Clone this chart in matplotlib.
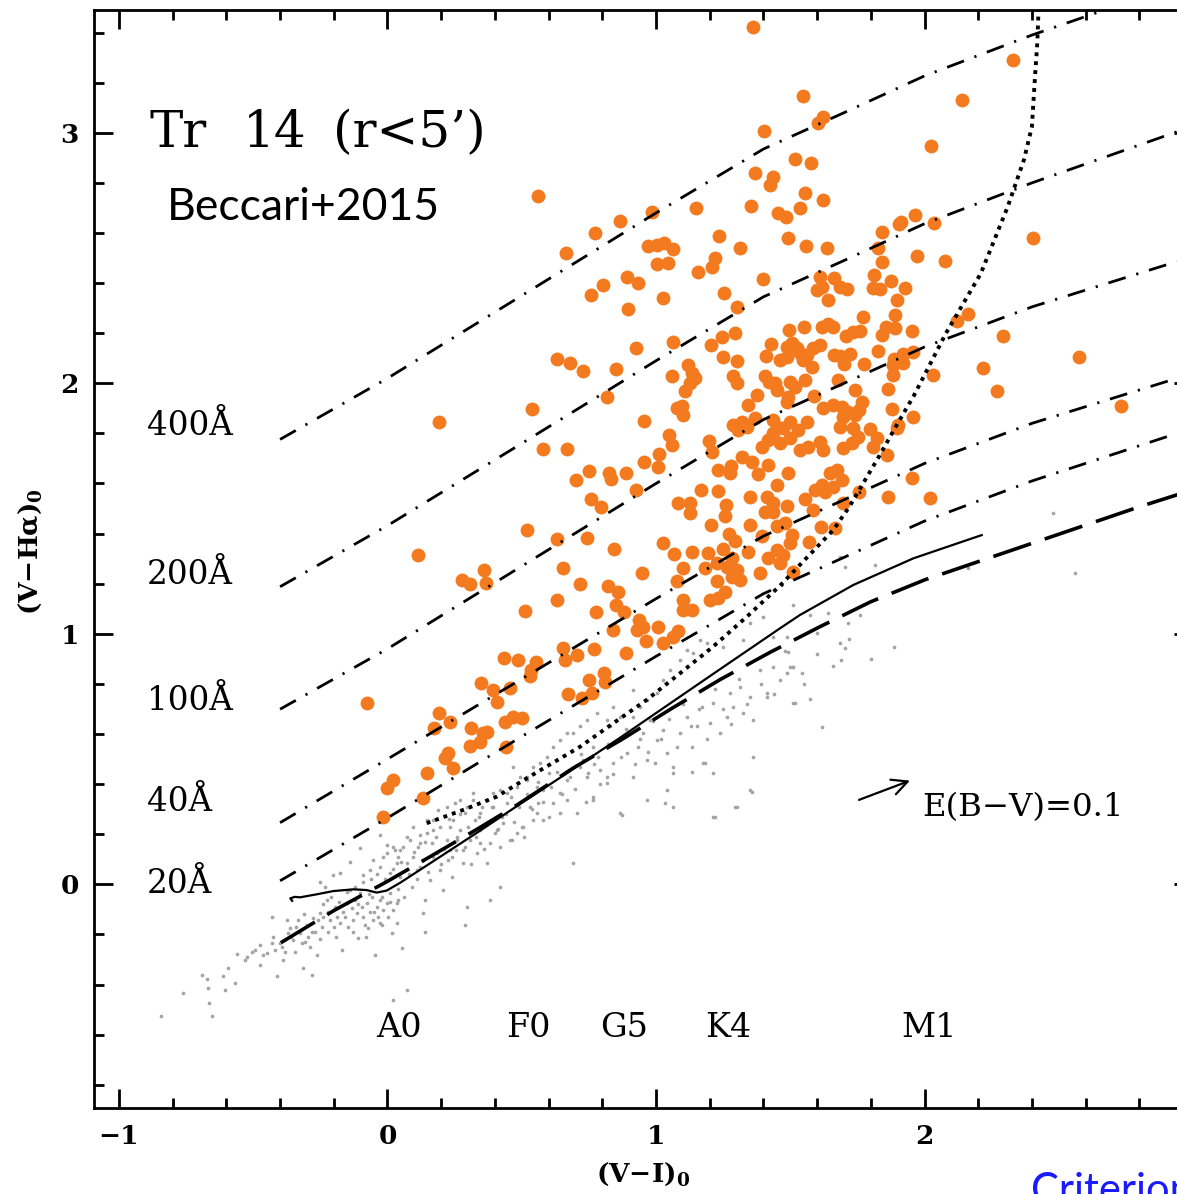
import matplotlib.pyplot as plt
from matplotlib.ticker import MultipleLocator, FuncFormatter

plt.rcParams['font.family'] = 'DejaVu Serif'
plt.rcParams['mathtext.fontset'] = 'dejavuserif'

# H-alpha excess candidates, (V-I)0 vs (V-Halpha)0
ha_x = [
    1.360, 0.562, 1.402, 1.369, 1.437, 1.425, 1.354, 1.455, 1.484, 1.148,
    0.984, 0.866, 0.773, 0.664, 1.235, 0.971, 1.003, 1.030, 1.064, 1.003,
    1.046, 1.220, 1.207, 1.313, 1.158, 1.397, 0.891, 0.932, 0.801, 0.758,
    1.025, 1.253, 0.897, 1.301, 1.294, 1.245, 1.205, 1.428, 1.064, 0.926,
    0.630, 0.680, 0.727, 0.851, 1.248, 1.302, 1.409, 1.120, 1.133, 1.145,
    1.127, 1.108, 1.060, 1.288, 1.301, 1.406, 1.422, 1.375, 0.816, 0.193,
    0.539, 0.956, 0.580, 0.667, 0.112, 0.521, 0.630, 0.742, 0.845, 0.702,
    0.750, 0.826, 0.832, 0.888, 0.956, 1.010, 1.006, 0.926, 0.757, 0.794,
    1.050, 1.061, 1.077, 1.098, 1.102, 1.199, 1.207, 1.230, 1.279, 1.276,
    1.319, 1.356, 1.342, 1.286, 1.319, 1.369, 1.394, 1.418, 1.437, 1.418,
    1.381, 1.168, 1.232, 1.260, 1.257, 1.083, 1.127, 1.127, 1.205, 1.350,
    1.412, 1.437, 1.350, 1.394, 1.273, 1.025, 1.068, 1.135, 1.193, 1.251,
    1.294, 1.344, 1.418, 1.450, 1.102, 1.079, 1.183, 1.226, 1.263, 1.301,
    1.282, 1.226, 1.313, 1.387, 0.947, 0.655, 0.630, 0.717, 0.822, 0.860,
    0.512, 0.367, 0.361, 0.276, 0.307, 0.777, 0.851, 0.882, 1.099, 1.102,
    1.133, 1.201, 1.232, 1.257, 0.841, 0.887, 0.938, 0.953, 0.928, 1.009,
    0.962, 0.770, 0.653, 0.661, 0.707, 1.027, 1.064, 1.081, 0.434, 0.487,
    0.534, 0.553, 0.531, 0.348, 0.394, 0.407, 0.456, 0.673, 0.723, 0.761,
    0.752, 0.806, 0.810, 0.193, 0.233, 0.174, 0.310, 0.307, 0.357, 0.369,
    0.345, 0.438, 0.469, 0.500, 0.441, 0.226, 0.214, 0.245, 0.146, 0.022,
    -0.016, -0.003, 0.133, -0.077,
    1.536, 1.623, 1.493, 1.558, 1.638, 1.843, 1.906, 1.911, 1.965, 2.035,
    1.826, 1.841, 1.971, 1.611, 1.617, 1.599, 1.664, 1.685, 1.712, 1.642,
    1.813, 1.807, 1.834, 1.874, 1.927, 1.896, 1.770, 1.890, 1.496, 1.551,
    1.617, 1.642, 1.660, 1.708, 1.735, 1.760, 1.841, 1.857, 1.890, 1.952,
    1.487, 1.505, 1.524, 1.462, 1.487, 1.536, 1.561, 1.586, 1.611, 1.549,
    1.580, 1.663, 1.685, 1.723, 1.700, 1.776, 1.828, 1.886, 1.921, 1.956,
    1.921, 1.884, 1.882, 2.033, 1.863,
    1.443, 1.450, 1.499, 1.518, 1.493, 1.487, 1.555, 1.677, 1.590, 1.741,
    1.766, 1.623, 1.660, 1.692, 1.716, 1.698, 1.756, 1.741, 1.878, 1.956,
    1.338, 1.307, 1.437, 1.450, 1.499, 1.474, 1.561, 1.735, 1.797,
    1.462, 1.499, 1.530, 1.536, 1.567, 1.611, 1.623, 1.685, 1.822, 1.698,
    1.729, 1.753, 1.809, 1.859, 1.902, 1.952, 1.865, 1.493, 1.450, 1.437,
    1.406, 1.487, 1.555, 1.450, 1.480, 1.505, 1.499, 1.571, 1.592, 1.617,
    1.629, 1.648, 1.673, 1.692, 1.660, 1.698, 1.757, 1.586, 1.615, 1.667,
    1.282, 1.474, 1.462, 1.509, 1.896, 2.020,
    2.331, 2.139, 1.549, 1.623, 1.604, 2.023, 1.518, 1.576, 1.555, 2.405,
    2.076, 2.120, 2.163, 2.293, 2.577, 2.217, 2.269, 2.731,
]
ha_y = [
    3.424, 2.748, 3.007, 2.841, 2.825, 2.792, 2.709, 2.679, 2.664, 2.701,
    2.683, 2.648, 2.601, 2.521, 2.589, 2.548, 2.552, 2.561, 2.535, 2.476,
    2.479, 2.499, 2.465, 2.539, 2.444, 2.415, 2.423, 2.402, 2.392, 2.352,
    2.342, 2.359, 2.295, 2.306, 2.200, 2.186, 2.153, 2.157, 2.164, 2.140,
    2.097, 2.080, 2.049, 2.056, 2.106, 2.090, 2.109, 2.073, 2.040, 2.022,
    2.000, 1.970, 2.029, 2.029, 2.000, 2.029, 2.006, 1.953, 1.944, 1.844,
    1.896, 1.851, 1.737, 1.738, 1.315, 1.414, 1.377, 1.381, 1.337, 1.614,
    1.650, 1.641, 1.618, 1.641, 1.687, 1.718, 1.665, 1.574, 1.537, 1.505,
    1.794, 1.754, 1.900, 1.909, 1.873, 1.770, 1.727, 1.654, 1.670, 1.643,
    1.707, 1.687, 1.913, 1.834, 1.847, 1.860, 1.747, 1.774, 1.800, 1.674,
    1.637, 1.574, 1.570, 1.514, 1.470, 1.523, 1.521, 1.481, 1.434, 1.547,
    1.547, 1.487, 1.434, 1.392, 1.398, 1.364, 1.317, 1.327, 1.321, 1.339,
    1.370, 1.325, 1.304, 1.335, 1.261, 1.211, 1.261, 1.284, 1.268, 1.255,
    1.228, 1.211, 1.215, 1.244, 1.244, 1.261, 1.135, 1.199, 1.191, 1.168,
    1.092, 1.204, 1.255, 1.215, 1.198, 1.088, 1.115, 1.088, 1.135, 1.095,
    1.095, 1.135, 1.142, 1.168, 1.015, 0.925, 1.055, 1.028, 1.015, 1.028,
    0.971, 0.938, 0.942, 0.895, 0.915, 0.962, 0.988, 1.012, 0.905, 0.895,
    0.855, 0.889, 0.832, 0.802, 0.776, 0.729, 0.782, 0.760, 0.743, 0.762,
    0.816, 0.842, 0.809, 0.683, 0.647, 0.623, 0.623, 0.552, 0.603, 0.609,
    0.569, 0.647, 0.669, 0.663, 0.549, 0.523, 0.503, 0.463, 0.443, 0.416,
    0.270, 0.383, 0.343, 0.725,
    2.699, 2.732, 2.579, 2.548, 2.541, 2.605, 2.636, 2.645, 2.672, 2.641,
    2.539, 2.485, 2.508, 2.426, 2.386, 2.372, 2.419, 2.383, 2.376, 2.333,
    2.432, 2.379, 2.375, 2.408, 2.379, 2.333, 2.266, 2.273, 2.213, 2.226,
    2.226, 2.237, 2.226, 2.189, 2.206, 2.210, 2.193, 2.226, 2.220, 2.210,
    2.146, 2.160, 2.140, 2.093, 2.106, 2.120, 2.113, 2.140, 2.154, 2.093,
    2.066, 2.113, 2.109, 2.117, 2.078, 2.076, 2.129, 2.096, 2.117, 2.126,
    2.080, 2.073, 2.033, 2.033, 1.976,
    2.000, 1.973, 2.006, 1.986, 1.946, 1.927, 2.013, 2.013, 1.949, 1.975,
    1.927, 1.900, 1.913, 1.907, 1.887, 1.867, 1.893, 1.873, 1.896, 1.867,
    1.827, 1.814, 1.854, 1.827, 1.847, 1.820, 1.847, 1.820, 1.816,
    1.760, 1.780, 1.814, 1.734, 1.747, 1.767, 1.734, 1.827, 1.780, 1.741,
    1.760, 1.787, 1.747, 1.714, 1.834, 1.621, 1.545, 1.643, 1.594, 1.521,
    1.487, 1.510, 1.537, 1.430, 1.441, 1.394, 1.364, 1.368, 1.574, 1.594,
    1.567, 1.641, 1.654, 1.614, 1.587, 1.521, 1.567, 1.494, 1.428, 1.421,
    1.301, 1.315, 1.281, 1.248, 1.820, 1.541,
    3.291, 3.131, 3.147, 3.064, 3.040, 2.947, 2.894, 2.878, 2.761, 2.581,
    2.489, 2.250, 2.275, 2.189, 2.104, 2.062, 1.970, 1.909,
]

# field stars without H-alpha excess
field_x = [
    -0.844, -0.763, -0.690, -0.671, -0.664, -0.652, -0.667, -0.612, -0.593, -0.605,
    -0.568, -0.562, -0.531, -0.524, -0.506, -0.493, -0.475, -0.475, -0.463, -0.450,
    -0.431, -0.431, -0.425, -0.419, -0.413, -0.400, -0.394, -0.388, -0.382, -0.375,
    -0.369, -0.363, -0.351, -0.345, -0.332, -0.326, -0.320, -0.314, -0.307, -0.301,
    -0.295, -0.282, -0.276, -0.270, -0.264, -0.258, -0.251, -0.245, -0.239, -0.226,
    -0.220, -0.214, -0.201, -0.196, -0.189, -0.177, -0.170, -0.164, -0.152, -0.146,
    -0.140, -0.134, -0.127, -0.121, -0.115, -0.108, -0.102, -0.096, -0.090, -0.084,
    -0.078, -0.071, -0.065, -0.059, -0.053, -0.047, -0.040, -0.034, -0.028, -0.022,
    -0.016, -0.003, 0.003, 0.009, 0.016, 0.022, 0.034, 0.041, -0.251, -0.233,
    -0.202, -0.177, -0.140, -0.102, -0.090, -0.065, -0.053, -0.028, -0.016, -0.003,
    0.009, 0.028, 0.034, -0.028, 0.022,
    0.041, 0.047, 0.059, 0.071, 0.084, 0.090, 0.096, 0.109, 0.115, 0.121,
    0.133, 0.140, 0.146, 0.158, 0.164, 0.171, 0.183, 0.189, 0.195, 0.208,
    0.220, 0.226, 0.233, 0.239, 0.251, 0.257, 0.270, 0.282, 0.288, 0.295,
    0.307, 0.320, 0.326, 0.332, 0.345, 0.351, 0.370, 0.382, 0.394, 0.400,
    0.419, 0.425, 0.444, 0.462, 0.481, 0.500, 0.518, 0.543, 0.562, 0.581,
    0.600, 0.643, 0.667, 0.692, 0.717, 0.742, 0.766, 0.791, 0.816, 0.841,
    0.872, 1.032, 1.220, 1.294, 1.356, 1.176, 1.133, 1.064, 0.996,
    0.053, 0.071, 0.140, 0.289, 0.133, -0.028, 0.034,
    0.692, 0.717, 0.742, 0.767, 0.729, 0.748, 0.785, 0.816, 0.829, 0.866,
    0.891, 0.915, 0.934, 0.953, 0.965, 0.978, 1.003, 1.027, 1.040, 1.064,
    1.089, 1.114, 1.133, 1.151, 1.170, 1.183, 1.201, 1.213, 1.238, 1.263,
    1.276, 1.288, 1.313, 1.325, 1.350, 1.362, 1.387, 1.412, 1.437, 1.462,
    1.487, 1.511, 1.437, 1.400, 1.350, 1.325, 1.251, 1.189, 1.164, 1.139,
    1.114, 1.089, 1.052, 1.027, 1.003, 0.965, 0.940, 0.915, 0.866, 0.841,
    0.816, 0.779, 0.667, 0.642, 0.618, 0.593, 0.568, 0.556, 0.543, 0.518,
    0.494, 0.469, 0.444, 0.419, 0.394, 0.369, 0.345, 0.320, 0.295, 0.270,
    0.245, 0.220, 0.196, 0.171, 0.146, 0.121, 0.096, 0.072, 0.047, 0.022,
    -0.003, 0.705, 0.667, 0.642, 0.618, 0.580, 0.556, 0.531, 0.506, 0.481,
    0.456, 0.431, 0.407, 0.382, 0.345, 0.307, 0.282, 0.258, 0.233, 0.767,
    0.816, 0.866, 0.915, 0.965, 1.040, 1.064, 1.213, 1.301, 1.350, 1.412,
    1.511, 1.362, 1.213,
    2.480, 2.163, 2.561, 1.685, 1.704, 1.816, 1.511, 1.574, 1.642, 1.760,
    1.716, 1.487, 1.598, 1.685, 1.704, 1.493, 1.499, 1.511, 1.542, 1.689,
    1.887, 1.518, 1.574, 1.617,
    -0.36, -0.34, -0.31, -0.29, -0.28, -0.25, -0.24, -0.22, -0.21, -0.19,
    -0.18, -0.16, -0.15, -0.13, -0.12, -0.11, -0.09, -0.08, -0.07, -0.06,
    -0.05, -0.04, -0.02, -0.01, 0.01, 0.02, 0.04, 0.05, 0.06, 0.08,
    0.10, 0.11, 0.12, 0.14, 0.15, 0.17, 0.18, 0.20, 0.21, 0.23,
    0.24, 0.26, 0.27, 0.29, 0.30, 0.31, 0.33, 0.34, 0.36, 0.37,
    0.39, 0.41, 0.42, 0.44, 0.46, 0.47, 0.49, 0.51, 0.52, 0.54,
    0.56, 0.58, 0.60, 0.61, 0.63, 0.65, 0.68, 0.70, 0.72, 0.74,
    0.77, 0.79, 0.82, 0.84, 0.87, 0.89, 0.92, 0.94, 0.97, 0.99,
    1.02, 1.05, 1.08, 1.10, 1.13, 1.16, 1.19, 1.22, 1.25, 1.28,
    1.31, 1.34, 1.39, 1.44, 1.48, 1.55, 1.60, 1.66, 1.72, 1.80,
]
field_y = [
    -0.526, -0.435, -0.362, -0.378, -0.473, -0.526, -0.415, -0.366, -0.335, -0.422,
    -0.393, -0.278, -0.302, -0.291, -0.269, -0.262, -0.242, -0.322, -0.282, -0.273,
    -0.129, -0.233, -0.209, -0.262, -0.366, -0.236, -0.249, -0.302, -0.269, -0.143,
    -0.196, -0.176, -0.222, -0.269, -0.143, -0.196, -0.236, -0.335, -0.229, -0.162,
    -0.209, -0.362, -0.136, -0.189, -0.282, -0.143, -0.116, -0.169, -0.129, -0.063,
    -0.109, -0.143, -0.169, -0.089, -0.129, -0.156, -0.262, -0.109, -0.076, -0.169,
    -0.023, -0.096, -0.143, -0.063, -0.116, -0.216, -0.036, -0.089, -0.129, -0.162,
    -0.076, -0.176, -0.109, -0.049, -0.143, -0.282, -0.089, -0.129, -0.063, -0.162,
    -0.102, -0.076, -0.129, -0.036, -0.196, -0.102, -0.156, -0.063, 0.010, -0.010,
    0.037, 0.044, 0.090, 0.144, 0.037, 0.057, 0.097, 0.070, 0.110, 0.157,
    0.044, 0.137, 0.084, 0.197, -0.462,
    0.110, 0.030, 0.150, 0.084, 0.177, -0.009, 0.110, 0.057, 0.150, 0.197,
    0.097, -0.063, 0.256, 0.017, 0.163, 0.217, 0.124, 0.297, 0.057, -0.023,
    0.177, 0.097, 0.230, 0.030, 0.323, 0.137, 0.217, 0.084, 0.283, -0.089,
    0.177, 0.336, 0.256, 0.124, 0.217, 0.310, 0.084, -0.063, 0.363, 0.203,
    -0.009, 0.270, 0.323, 0.177, 0.390, 0.230, 0.429, 0.257, 0.323, 0.376,
    0.443, 0.283, 0.416, 0.084, 0.470, 0.429, 0.350, 0.456, 0.403, 0.483,
    0.277, 0.323, 0.270, 0.310, 0.370, 0.483, 0.450, 0.443, 0.483,
    -0.255, -0.422, -0.189, -0.162, -0.116, -0.156, -0.076,
    0.603, 0.630, 0.656, 0.550, 0.496, 0.443, 0.509, 0.550, 0.630, 0.576,
    0.523, 0.669, 0.550, 0.603, 0.496, 0.656, 0.576, 0.616, 0.523, 0.469,
    0.603, 0.669, 0.550, 0.630, 0.709, 0.483, 0.643, 0.722, 0.603, 0.669,
    0.762, 0.709, 0.789, 0.683, 0.749, 0.656, 0.855, 0.762, 0.869, 0.816,
    0.842, 0.869, 0.988, 1.068, 1.042, 0.975, 0.948, 0.962, 0.975, 0.922,
    0.935, 0.895, 0.855, 0.816, 0.762, 0.736, 0.709, 0.776, 0.669, 0.709,
    0.656, 0.683, 0.603, 0.576, 0.550, 0.509, 0.483, 0.390, 0.469, 0.416,
    0.430, 0.469, 0.363, 0.376, 0.310, 0.336, 0.283, 0.363, 0.310, 0.336,
    0.257, 0.310, 0.230, 0.257, 0.204, 0.164, 0.230, 0.190, 0.137, 0.150,
    0.124, 0.283, 0.336, 0.363, 0.323, 0.257, 0.283, 0.310, 0.230, 0.204,
    0.177, 0.243, 0.217, 0.164, 0.164, 0.204, 0.137, 0.177, 0.137, 0.336,
    0.430, 0.283, 0.430, 0.336, 0.376, 0.310, 0.270, 0.310, 0.376, 0.749,
    0.722, 0.509, 0.443,
    1.481, 1.261, 1.241, 1.308, 1.268, 1.275, 1.115, 1.075, 1.082, 1.075,
    1.042, 0.988, 1.002, 0.962, 0.942, 0.929, 0.869, 0.869, 0.845, 0.895,
    0.948, 0.723, 0.739, 0.629,
    -0.21, -0.17, -0.12, -0.25, -0.19, -0.22, -0.08, -0.19, -0.05, -0.21,
    -0.07, -0.13, -0.03, -0.19, -0.01, -0.08, 0.01, -0.21, -0.04, 0.02,
    -0.11, 0.04, -0.05, 0.02, -0.07, 0.06, -0.02, 0.09, -0.05, 0.04,
    0.13, 0.02, 0.07, 0.17, 0.05, 0.11, 0.19, 0.08, 0.14, 0.26,
    0.11, 0.19, 0.28, 0.15, 0.23, 0.08, 0.19, 0.27, 0.14, 0.24,
    0.31, 0.22, 0.15, 0.28, 0.35, 0.25, 0.31, 0.19, 0.36, 0.30,
    0.41, 0.33, 0.27, 0.39, 0.45, 0.36, 0.43, 0.38, 0.52, 0.33,
    0.48, 0.40, 0.56, 0.44, 0.51, 0.62, 0.48, 0.58, 0.53, 0.65,
    0.58, 0.66, 0.55, 0.72, 0.63, 0.70, 0.58, 0.78, 0.70, 0.64,
    0.82, 0.72, 0.80, 0.76, 0.93, 0.80, 0.92, 0.87, 0.98, 0.90,
]

# constant-EW loci (dash-dot)
ew_x = [-0.40, 0.0, 0.5, 1.0, 1.4, 1.7, 2.0, 2.4, 2.94]
ew_400 = [1.776, 2.02, 2.35, 2.68, 2.935, 3.08, 3.227, 3.39, 3.59]
ew_200 = [1.188, 1.432, 1.76, 2.09, 2.345, 2.49, 2.637, 2.80, 3.004]
ew_100 = [0.699, 0.94, 1.27, 1.60, 1.855, 2.00, 2.145, 2.305, 2.486]
ew_40 = [0.246, 0.50, 0.82, 1.14, 1.39, 1.535, 1.68, 1.84, 2.02]
ew_20 = [0.014, 0.265, 0.59, 0.91, 1.16, 1.305, 1.45, 1.61, 1.80]
ew_labels = ['400Å', '200Å', '100Å', '40Å', '20Å']
ew_label_y = [1.794, 1.199, 0.696, 0.294, -0.036]

# model sequence (solid)
ms_x = [-0.355, -0.362, -0.345, -0.326, -0.264, -0.202, -0.127, -0.078, -0.040,
        -0.003, 0.047, 0.189, 0.332, 0.493, 0.642, 0.866, 1.213, 1.462, 1.536,
        1.735, 1.958, 2.213]
ms_y = [-0.066, -0.056, -0.050, -0.052, -0.040, -0.027, -0.020, -0.023, -0.033,
        -0.025, 0.006, 0.105, 0.205, 0.320, 0.425, 0.585, 0.840, 1.022, 1.075,
        1.195, 1.301, 1.394]

# median of field stars (long dashes)
med_x = [-0.397, -0.20, 0.0, 0.15, 0.34, 0.48, 0.69, 0.88, 1.06, 1.24, 1.43,
         1.61, 1.80, 2.00, 2.20, 2.40, 2.60, 2.80, 3.0]
med_y = [-0.233, -0.105, 0.012, 0.105, 0.224, 0.315, 0.463, 0.583, 0.703, 0.818,
         0.929, 1.028, 1.128, 1.215, 1.288, 1.361, 1.434, 1.507, 1.575]

# 10 A criterion (dotted)
crit_x = [0.146, 0.282, 0.407, 0.518, 0.717, 0.841, 0.965, 1.089, 1.213, 1.338,
          1.46, 1.66, 1.72, 1.83, 1.90, 1.96, 2.08, 2.21, 2.31, 2.37, 2.40, 2.41,
          2.42, 2.425]
crit_y = [0.244, 0.297, 0.350, 0.423, 0.549, 0.643, 0.736, 0.842, 0.949, 1.068,
          1.19, 1.414, 1.507, 1.707, 1.840, 1.95, 2.20, 2.439, 2.705, 2.891, 3.024,
          3.198, 3.357, 3.50]

sp_types = ['A0', 'F0', 'G5', 'K4', 'M1']
sp_x = [-0.043, 0.441, 0.791, 1.183, 1.915]

fig = plt.figure(figsize=(11.77, 11.94), dpi=100)
ax = fig.add_axes([0.0801, 0.0718, 0.9335, 0.9198])
ax.set_xlim(-1.092, 3.0)
ax.set_ylim(-0.894, 3.49)

ax.scatter(field_x, field_y, s=7, color='#a4a4a4', linewidths=0, zorder=1)
ax.scatter(ha_x, ha_y, s=100, color='#f47a1f', linewidths=0, zorder=2)

for ew in [ew_400, ew_200, ew_100, ew_40, ew_20]:
    ax.plot(ew_x, ew, color='black', lw=2.0, dashes=(6.5, 4, 0.8, 4), zorder=3)
ax.plot(ms_x, ms_y, color='black', lw=1.6, zorder=3)
ax.plot(med_x, med_y, color='black', lw=2.6, dashes=(11, 4), zorder=3)
ax.plot(crit_x, crit_y, color='black', lw=2.8, dashes=(1, 1.3),
        solid_capstyle='butt', dash_capstyle='butt', zorder=3)

for lab, yy in zip(ew_labels, ew_label_y):
    ax.text(-0.895, yy, lab, fontsize=23.5, ha='left', va='baseline')
for sp, xx in zip(sp_types, sp_x):
    ax.text(xx, -0.608, sp, fontsize=24, ha='left', va='baseline')

# cluster name, set in three pieces for the wide spacing
ax.text(-0.885, 2.943, 'Tr', fontsize=36, ha='left', va='baseline')
ax.text(-0.538, 2.943, '14', fontsize=36, ha='left', va='baseline')
ax.text(-0.203, 2.943, '(r<5’)', fontsize=36, ha='left', va='baseline')
ax.text(-0.821, 2.652, 'Beccari+2015', fontsize=32, family='Lato',
        ha='left', va='baseline')

ax.annotate('', xy=(1.946, 0.414), xytext=(1.756, 0.337),
            arrowprops=dict(arrowstyle='->', lw=1.6, color='black',
                            mutation_scale=28, shrinkA=0, shrinkB=0))
ax.text(1.993, 0.273, 'E(B−V)=0.1', fontsize=23.3, ha='left', va='baseline')

ax.xaxis.set_major_locator(MultipleLocator(1))
ax.xaxis.set_minor_locator(MultipleLocator(0.2))
ax.yaxis.set_major_locator(MultipleLocator(1))
ax.yaxis.set_minor_locator(MultipleLocator(0.2))
# the x = 3 label would sit on the right border, leave it blank
ax.xaxis.set_major_formatter(
    FuncFormatter(lambda v, pos: '' if v > 2.5 else f'{v:.0f}'.replace('-', '−')))
ax.tick_params(which='both', direction='in', top=True, right=True, width=2)
ax.tick_params(which='major', length=13.5)
ax.tick_params(which='minor', length=7)
ax.tick_params(axis='x', which='major', pad=11)
ax.tick_params(axis='y', which='major', pad=11)
for lab in ax.get_xticklabels() + ax.get_yticklabels():
    lab.set_fontweight('bold')
    lab.set_fontsize(19)
for sp in ax.spines.values():
    sp.set_linewidth(2)

fig.text(0.5463, 0.0165, '(V−I)$_\\mathbf{0}$', fontsize=19, fontweight='bold',
         ha='center', va='center')
fig.text(0.0255, 0.538, '(V−Hα)$_\\mathbf{0}$', fontsize=19, fontweight='bold',
         ha='center', va='center', rotation=90)

fig.text(1031 / 1177, -0.0075, 'Criterion', fontsize=30, family='Lato',
         color='#1a1aff', ha='left', va='baseline')

fig.savefig('out.png', dpi=100)
